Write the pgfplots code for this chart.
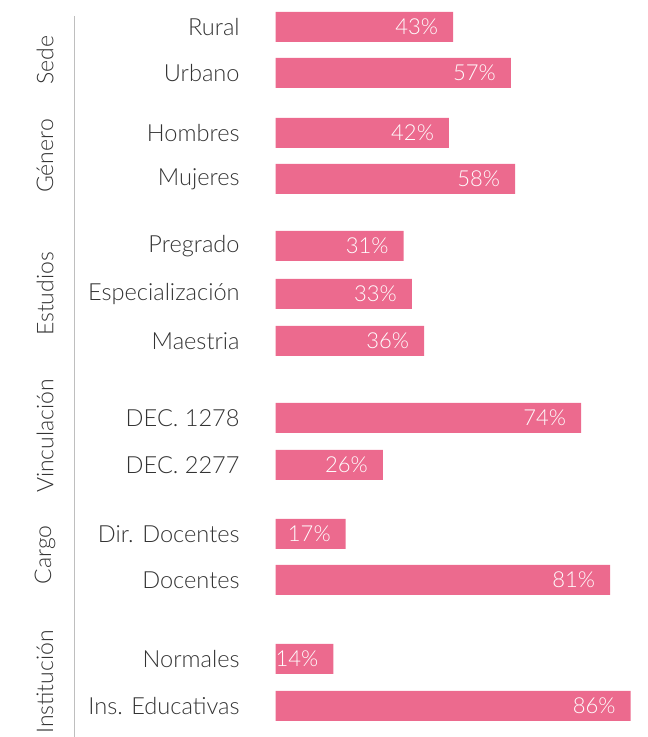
\documentclass[border=0pt]{standalone}
\usepackage{pgfplots}
\pgfplotsset{compat=1.18}
\usepackage{fontspec}
\setmainfont{Lato Light}
\definecolor{barpink}{RGB}{236,106,142}
\definecolor{txt}{RGB}{51,51,51}
\definecolor{rule}{RGB}{190,190,190}
\begin{document}
\begin{tikzpicture}
\begin{axis}[
  name=ax,
  scale only axis,
  width=323.5pt, height=368.5pt,
  xmin=-66.71, xmax=89.95,
  ymin=-737, ymax=0,
  xbar, bar width=15pt,
  axis line style={draw=none},
  xtick=\empty,
  ytick={-27,-73,-133,-179,-246,-294,-341,-418,-465,-534,-580,-659,-706},
  yticklabels={Rural,Urbano,Hombres,Mujeres,Pregrado,Especialización,Maestria,DEC. 1278,DEC. 2277,Dir. Docentes,Docentes,Normales,Ins. Educativas},
  ytick style={draw=none},
  major tick length=0pt,
  yticklabel style={anchor=east, inner sep=0pt, xshift=120pt, font=\fontsize{11.8}{14}\selectfont, text=txt},
  clip=false,
  /pgf/number format/assume math mode=true,
  nodes near coords={\pgfmathprintnumber{\pgfplotspointmeta}\%},
  nodes near coords style={anchor=east, xshift=-4pt, text=white, font=\fontsize{11}{13}\selectfont},
  point meta=x,
]
\addplot[fill=barpink, draw=none] coordinates {
  (43,-27) (57,-73) (42,-133) (58,-179)
  (31,-246) (33,-294) (36,-341)
  (74,-418) (26,-465) (17,-534) (81,-580)
  (14,-659) (86,-706)
};
\draw[rule, line width=0.6pt] (axis cs:-48.67,-16) -- (axis cs:-48.67,-737);
\begin{scope}[every node/.style={rotate=90, text=txt, font=\fontsize{11.5}{14}\selectfont, inner sep=0pt}]
\node at (axis cs:-55.81,-60) {Sede};
\node at (axis cs:-55.81,-156) {Género};
\node at (axis cs:-55.81,-294) {Estudios};
\node at (axis cs:-55.81,-436) {Vinculación};
\node at (axis cs:-55.81,-555) {Cargo};
\node at (axis cs:-55.81,-682) {Institución};
\end{scope}
\end{axis}
\pgfresetboundingbox
\path[use as bounding box] (ax.south west) rectangle (ax.north east);
\end{tikzpicture}
\end{document}
